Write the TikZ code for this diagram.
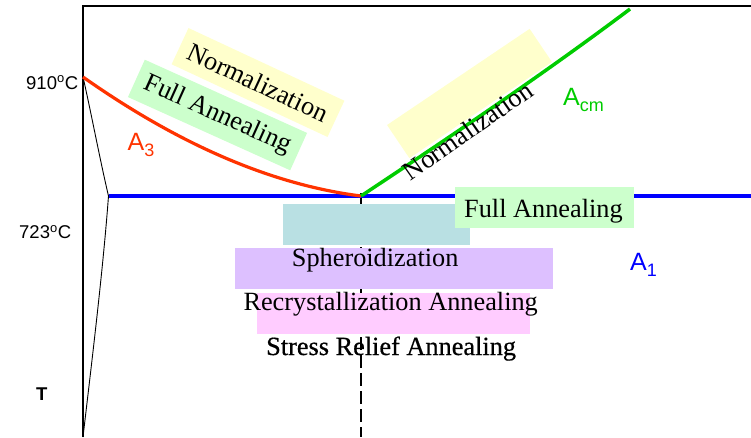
\documentclass[tikz,border=0pt]{standalone}
\usepackage{fontspec}
\setmainfont{Liberation Serif}
\newfontfamily\lblfont{Liberation Sans}
\usetikzlibrary{positioning}

\definecolor{normyellow}{RGB}{255,255,204}
\definecolor{fullgreen}{RGB}{204,255,204}
\definecolor{spherteal}{RGB}{185,224,227}
\definecolor{spherlilac}{RGB}{221,192,255}
\definecolor{recrpink}{RGB}{255,204,255}
\definecolor{athree}{RGB}{255,51,0}
\definecolor{acmgreen}{RGB}{0,204,0}

\newcommand\lblsub[1]{\raisebox{-6pt}{\fontsize{18pt}{18pt}\selectfont #1}}

\begin{document}
\begin{tikzpicture}[x=1pt, y=-1pt,
    boxtext/.style={font=\fontsize{26.3pt}{30pt}\selectfont, inner sep=0pt},
    axlbl/.style={font=\lblfont\fontsize{18.5pt}{20pt}\selectfont, inner sep=0pt, anchor=base west},
    phase/.style={font=\lblfont\fontsize{25pt}{28pt}\selectfont, inner sep=0pt, anchor=base west}]
    \useasboundingbox (0,0) rectangle (751,437);

    % points of the diagram
    \coordinate (ax top) at (83,6);
    \coordinate (ax bot) at (83,437);
    \coordinate (ax right) at (751,6);
    \coordinate (g) at (83,77);
    \coordinate (p) at (108.5,196);
    \coordinate (e) at (361,196);
    \coordinate (a1 end) at (751,196);
    \coordinate (acm end) at (630,9);
    \coordinate (dash end) at (361,437);

    % tilted boxes above the lines
    \node[boxtext, fill=normyellow, minimum width=172pt, minimum height=40pt, rotate=-25] (norm left) at (258,82.5) {Normalization};
    \node[boxtext, fill=fullgreen, minimum width=178pt, minimum height=41pt, rotate=-24.3] (full left) at (217.5,115) {Full Annealing};
    \node[fill=normyellow, minimum width=172pt, minimum height=40pt, inner sep=0pt, rotate=34] (norm right box) at (469.5,93.5) {};

    % axes and the thin boundary
    \draw[line width=1.3pt] (ax bot) -- (ax top) -- (ax right);
    \draw[line width=0.9pt] (g) .. controls (91,112) and (100,160) .. (p)
        .. controls (103,270) and (92,360) .. (ax bot);
    \draw[line width=2pt, dash pattern=on 13pt off 5pt] (361,193) -- (dash end);

    % A1, A3, Acm
    \draw[blue, line width=4pt] (p) -- (a1 end);
    \draw[athree, line width=3.2pt] (g) .. controls (181,146) and (273.7,185) .. (e);
    \draw[acmgreen, line width=3.5pt] (e) .. controls (450,137) and (545,73) .. (acm end);
    \node[boxtext, rotate=35] (norm right) at (467.5,130.8) {Normalization};

    % treatment ranges below A1
    \fill[spherteal] (283.3,204) rectangle (470,245);
    \fill[spherlilac] (235,248.3) rectangle (553.3,289);
    \fill[recrpink] (256.7,293.3) rectangle (530,334);
    \fill[fullgreen] (455,187.3) rectangle (634,228);

    \node[boxtext, anchor=base west] (full low) at (464,217) {Full Annealing};
    \node[boxtext, anchor=base west] (spher) at (291.7,266) {Spheroidization};
    \node[boxtext, anchor=base west] (recr) at (243.3,310) {Recrystallization Annealing};
    \node[boxtext, anchor=base west] (stress) at (266,355) {\addfontfeatures{FakeBold=0.6}Stress Relief Annealing};

    % labels
    \node[axlbl] (t910) at (26,89) {910\textsuperscript{o}C};
    \node[axlbl] (t723) at (19,238.3) {723\textsuperscript{o}C};
    \node[axlbl, font=\lblfont\bfseries\fontsize{18.5pt}{20pt}\selectfont] (tlbl) at (36,400) {T};
    \node[phase, athree] (a3) at (127.5,150.5) {A\lblsub{3}};
    \node[phase, acmgreen] (acm) at (563,105) {A\lblsub{cm}};
    \node[phase, blue] (a1) at (630,270) {A\lblsub{1}};
\end{tikzpicture}
\end{document}
